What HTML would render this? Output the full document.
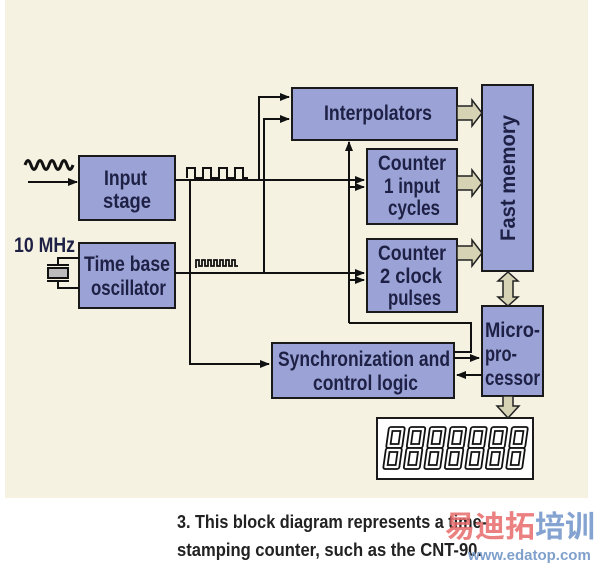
<!DOCTYPE html>
<html><head><meta charset="utf-8"><style>
html,body{margin:0;padding:0;background:#fff;width:600px;height:568px;overflow:hidden}
svg{display:block}
.t{font-family:"Liberation Sans",sans-serif;font-weight:bold;fill:#1e2145;font-size:21px;text-anchor:middle}
.l{text-anchor:start}
</style></head><body>
<svg width="600" height="568" viewBox="0 0 600 568" xmlns="http://www.w3.org/2000/svg">
<defs><marker id="a" markerWidth="10" markerHeight="8" refX="9" refY="4" orient="auto" markerUnits="userSpaceOnUse"><path d="M0,0 L10,4 L0,8 Z" fill="#111"/></marker></defs>
<rect x="5" y="0" width="583" height="498" fill="#f5f2e2"/>
<g fill="#9ba3d6" stroke="#1a1a1a" stroke-width="2">
<rect x="79" y="156" width="96" height="64"/>
<rect x="79" y="243" width="96" height="65"/>
<rect x="292" y="88" width="165" height="52"/>
<rect x="367" y="149" width="90" height="75"/>
<rect x="367" y="239" width="90" height="73"/>
<rect x="482" y="85" width="51" height="186"/>
<rect x="482" y="306" width="61" height="90"/>
<rect x="272" y="343" width="182" height="55"/>
</g>
<rect x="377" y="418" width="156" height="61" fill="#fff" stroke="#1a1a1a" stroke-width="2"/>
<text x="104" y="185" class="t l" textLength="43" lengthAdjust="spacingAndGlyphs">Input</text>
<text x="103" y="208" class="t l" textLength="48" lengthAdjust="spacingAndGlyphs">stage</text>
<text x="84" y="271" class="t l" textLength="86" lengthAdjust="spacingAndGlyphs">Time base</text>
<text x="91" y="295" class="t l" textLength="75" lengthAdjust="spacingAndGlyphs">oscillator</text>
<text x="324" y="120" class="t l" textLength="108" lengthAdjust="spacingAndGlyphs">Interpolators</text>
<text x="378" y="170" class="t l" textLength="68" lengthAdjust="spacingAndGlyphs">Counter</text>
<text x="384" y="193" class="t l" textLength="56" lengthAdjust="spacingAndGlyphs">1 input</text>
<text x="388" y="215" class="t l" textLength="52" lengthAdjust="spacingAndGlyphs">cycles</text>
<text x="378" y="260" class="t l" textLength="68" lengthAdjust="spacingAndGlyphs">Counter</text>
<text x="380" y="283" class="t l" textLength="62" lengthAdjust="spacingAndGlyphs">2 clock</text>
<text x="388" y="305" class="t l" textLength="53" lengthAdjust="spacingAndGlyphs">pulses</text>
<text x="485" y="337" class="t l" textLength="55" lengthAdjust="spacingAndGlyphs">Micro-</text>
<text x="485" y="361" class="t l" textLength="32" lengthAdjust="spacingAndGlyphs">pro-</text>
<text x="485" y="385" class="t l" textLength="55" lengthAdjust="spacingAndGlyphs">cessor</text>
<text x="278" y="366" class="t l" textLength="172" lengthAdjust="spacingAndGlyphs">Synchronization and</text>
<text x="313" y="390" class="t l" textLength="105" lengthAdjust="spacingAndGlyphs">control logic</text>
<text x="14" y="252" class="t l" textLength="61" lengthAdjust="spacingAndGlyphs">10 MHz</text>
<text transform="translate(515,241) rotate(-90)" class="t l" textLength="126" lengthAdjust="spacingAndGlyphs">Fast memory</text>
<g stroke="#111" stroke-width="2" fill="none">
<path d="M28,182 H77" marker-end="url(#a)"/>
<path d="M25,165 q3,-9 6,0 t6,0 t6,0 t6,0 t6,0 t6,0 t6,0 t6,0" stroke-width="3"/>
<path d="M187,178 V168 H195 V178 H203 V168 H211 V178 H219 V168 H227 V178 H235 V168 H243 V178 H248"/>
<path d="M196,268 V260 H199 V266 h3 v-6 h3 v6 h3 v-6 h3 v6 h3 v-6 h3 v6 h3 v-6 h3 v6 h3 v-6 h3 v6 h3 v-6 h3 v6 h3" stroke-width="1.8"/>
<path d="M175,180 H364" marker-end="url(#a)"/>
<path d="M350,187 H364" marker-end="url(#a)"/>
<path d="M175,273 H364" marker-end="url(#a)"/>
<path d="M350,280 H364" marker-end="url(#a)"/>
<path d="M190,180 V364 H269" marker-end="url(#a)"/>
<path d="M259,180 V97 H289" marker-end="url(#a)"/>
<path d="M264,273 V119 H289" marker-end="url(#a)"/>
<path d="M349,323 V142" marker-end="url(#a)"/>
<path d="M349,323 H471 V352 H454"/>
<path d="M454,358 H479" marker-end="url(#a)"/>
<path d="M482,375 H457" marker-end="url(#a)"/>
<path d="M79,258 H58 V265 M79,288 H58 V281"/>
</g>
<rect x="48" y="268" width="20" height="10" fill="#bbb" stroke="#111" stroke-width="2"/>
<path d="M47,265 H69 M47,281 H69" stroke="#111" stroke-width="2"/>
<g fill="#d6d2b4" stroke="#222" stroke-width="1.5">
<path d="M457,106 H472 V100 L482,113 L472,126 V120 H457 Z"/>
<path d="M457,176 H472 V170 L482,183 L472,196 V190 H457 Z"/>
<path d="M457,246 H472 V240 L482,253 L472,266 V260 H457 Z"/>
<path d="M508,272 L518,281 H513 V297 H518 L508,306 L498,297 H503 V281 H498 Z"/>
<path d="M503,396 H513 V406 H519 L508,418 L497,406 H503 Z"/>
</g>
<g fill="#fff" stroke="#111" stroke-width="1.8" transform="skewX(-8) translate(63,0)">
<g id="d"><rect x="386" y="427" width="16" height="21" rx="2"/><rect x="386" y="448" width="16" height="21" rx="2"/><rect x="390" y="431" width="8" height="13"/><rect x="390" y="452" width="8" height="13"/></g>
<use href="#d" x="20.5"/><use href="#d" x="41"/><use href="#d" x="61.5"/><use href="#d" x="82"/><use href="#d" x="102.5"/><use href="#d" x="123"/>
</g>
<text x="177" y="528" font-family="Liberation Sans, sans-serif" font-weight="bold" font-size="18" fill="#222" textLength="310" lengthAdjust="spacingAndGlyphs">3. This block diagram represents a time-</text>
<text x="177" y="556" font-family="Liberation Sans, sans-serif" font-weight="bold" font-size="18" fill="#222" textLength="305" lengthAdjust="spacingAndGlyphs">stamping counter, such as the CNT-90.</text>
<text x="445" y="537" font-family="Noto Sans CJK SC, sans-serif" font-weight="bold" font-size="30" fill="#e86a6a" opacity="0.85">易迪拓<tspan fill="#6f93c8">培训</tspan></text>
<text x="468" y="560" font-family="Liberation Sans, sans-serif" font-weight="bold" font-size="15" fill="#7fa0cc">www.edatop.com</text>
</svg>
</body></html>
